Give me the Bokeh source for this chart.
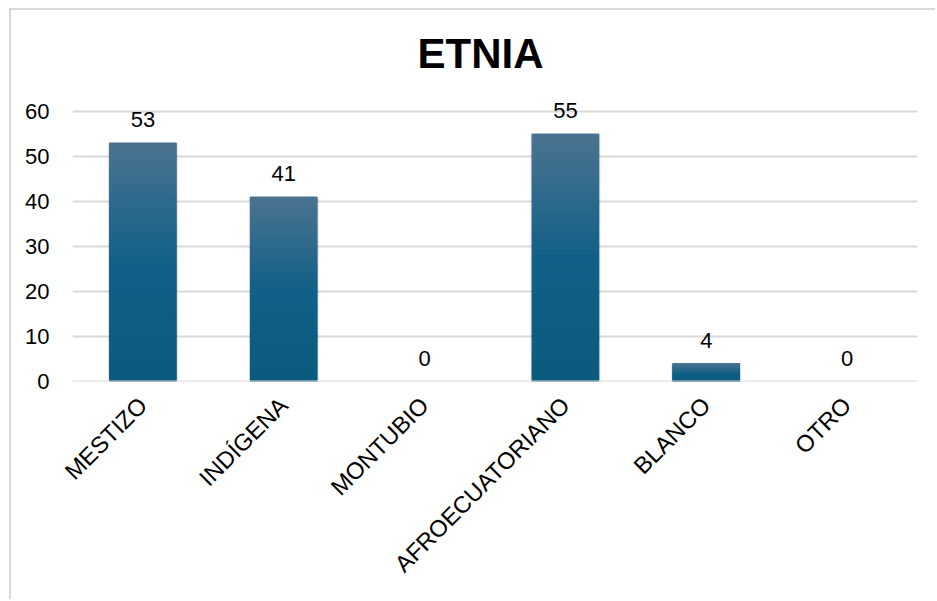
from bokeh.plotting import figure
from bokeh.models import ColumnDataSource, Range1d, FixedTicker, LabelSet, Span
from bokeh.core.properties import value
from bokeh.embed import file_html
from bokeh.resources import INLINE

categories = ["MESTIZO", "INDÍGENA", "MONTUBIO", "AFROECUATORIANO", "BLANCO", "OTRO"]
values = [53, 41, 0, 55, 4, 0]
yticks = [0, 10, 20, 30, 40, 50, 60]
title_text = "ETNIA"

FONT = "Liberation Sans"

# gradient colours (bottom -> middle -> top)
c_bottom = (11, 90, 126)
c_mid = (17, 96, 135)
c_top = (75, 115, 144)


def grad(f):
    if f < 0.5:
        a, b, t = c_bottom, c_mid, f / 0.5
    else:
        a, b, t = c_mid, c_top, (f - 0.5) / 0.5
    r = [round(a[i] + (b[i] - a[i]) * t) for i in range(3)]
    return "#%02x%02x%02x" % tuple(r)


N = 60
seg_x, seg_b, seg_t, seg_c = [], [], [], []
for cat, v in zip(categories, values):
    if v <= 0:
        continue
    for k in range(N):
        seg_x.append(cat)
        seg_b.append(v * k / N)
        seg_t.append(v * (k + 1) / N)
        seg_c.append(grad((k + 0.5) / N))

# canvas placed at (11, 10) inside window; left/top border line drawn by a CSS shadow
p = figure(x_range=categories, y_range=Range1d(0, 64), width=926, height=591,
           output_backend="svg", toolbar_location=None, title=title_text,
           min_border_left=61, min_border_right=20, min_border_top=83,
           min_border_bottom=220)
p.styles = {"box-shadow": "-2px -2px 0 0 #d9d9d9",
            "margin-left": "11px", "margin-top": "10px"}
p.outline_line_color = None
p.background_fill_color = "white"
p.border_fill_color = "white"

p.title.align = "left"
p.title.text_font = FONT
p.title.text_font_size = "42px"
p.title.text_font_style = "bold"
p.title.text_color = "#000000"
p.title.standoff = 34
p.title.offset = 345

# grid
p.xgrid.grid_line_color = None
p.ygrid.grid_line_color = "#d9d9d9"
p.ygrid.grid_line_width = 2
p.yaxis.ticker = FixedTicker(ticks=yticks)

# shadow
src = ColumnDataSource(dict(cat=categories, val=values,
                            lab=[str(v) for v in values]))
shadow_src = ColumnDataSource(dict(cat=[c for c, v in zip(categories, values) if v > 0],
                                   val=[v for v in values if v > 0]))
p.vbar(x="cat", top="val", bottom=0, width=0.50, source=shadow_src,
       fill_color="black", fill_alpha=0.06, line_color=None)
p.vbar(x="cat", top="val", bottom=0, width=0.49, source=shadow_src,
       fill_color="black", fill_alpha=0.08, line_color=None)

seg_src = ColumnDataSource(dict(x=seg_x, b=seg_b, t=seg_t, c=seg_c))
p.vbar(x="x", bottom="b", top="t", width=0.472, source=seg_src,
       fill_color="c", line_color="c", line_width=1.2)

# baseline
p.add_layout(Span(location=0, dimension="width", line_color="#d9d9d9", line_width=2))

# data labels
labels = LabelSet(x="cat", y="val", text="lab", source=src, text_align="center",
                  text_baseline="alphabetic", y_offset=16, text_font_size="22px",
                  text_font=value(FONT), text_color="#000000")
p.add_layout(labels)

for ax in (p.xaxis, p.yaxis):
    ax.axis_line_color = None
    ax.major_tick_line_color = None
    ax.minor_tick_line_color = None
    ax.major_label_text_font = FONT
    ax.major_label_text_color = "#000000"

p.yaxis.major_label_text_font_size = "22px"
p.xaxis.major_label_text_font_size = "23.5px"
p.yaxis.major_label_standoff = 17
p.xaxis.major_label_standoff = 14
p.xaxis.major_label_orientation = 0.785398

open("out.html", "w").write(file_html(p, INLINE))
